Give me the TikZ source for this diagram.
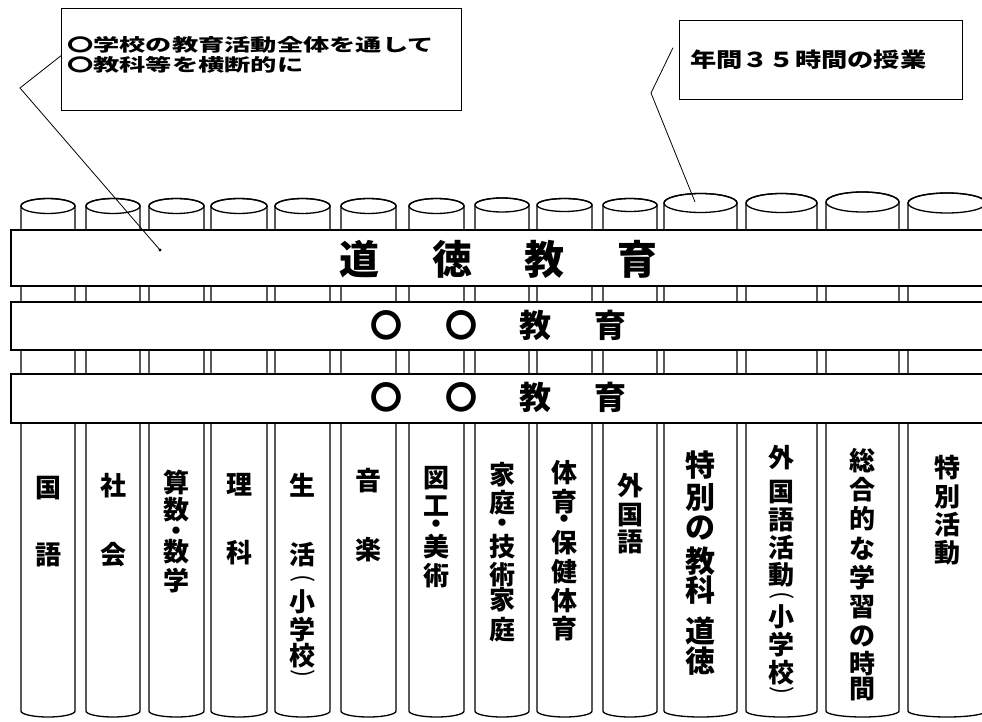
\documentclass[tikz,border=0pt]{standalone}
\usepackage{fontspec}
\usepackage{graphicx}
\newfontfamily\jp{Noto Sans CJK JP}
\newcommand\cylcol[4]{%
  \pgfmathsetmacro\cxr{(#2-#1)/2}%
  \pgfmathsetmacro\cxm{(#2+#1)/2}%
  \path[colline] (#1,-#3) -- (#1,-711) arc[start angle=180,end angle=360,x radius=\cxr pt,y radius=6pt] -- (#2,-#3) arc[start angle=0,end angle=180,x radius=\cxr pt,y radius=#4pt] -- cycle;
  \draw[colline,fill=none] (\cxm,-#3) ellipse[x radius=\cxr pt,y radius=#4pt];
}
\newcommand\coltext[4]{%
  \foreach \ch/\yy [count=\i] in {#4} {\node[ctext,#3] (#1-\i) at (#2,-\yy) {\ch};}%
}
\begin{document}
\begin{tikzpicture}[x=1pt,y=1pt,
  colline/.style={draw=black,line width=1.3pt,fill=white},
  bandbox/.style={draw=black,line width=1.5pt,fill=white,inner sep=0pt,anchor=north west},
  callout/.style={draw=black,line width=1.4pt,fill=white,inner sep=0pt,anchor=north west},
  leader/.style={draw=black,line width=0.8pt},
  ctext/.style={inner sep=0pt,font=\jp\bfseries\fontsize{26}{26}\selectfont},
  bigtext/.style={inner sep=0pt,font=\jp\bfseries\fontsize{30}{30}\selectfont},
  paren/.style={inner sep=0pt,rotate=-90,font=\jp\fontsize{24}{24}\selectfont},
  bandA/.style={inner sep=0pt,font=\jp\bfseries\fontsize{40}{40}\selectfont},
  bandB/.style={inner sep=0pt,font=\jp\bfseries\fontsize{32}{32}\selectfont},
  htext/.style={inner sep=0pt,anchor=base west}]
\useasboundingbox (0,0) rectangle (982,-722);
\clip (0,0) rectangle (982,-722);
\fill[white] (0,0) rectangle (982,-722);

% columns (cylinders)
\cylcol{21}{75}{206}{7.5}
\cylcol{86}{140}{206}{7.5}
\cylcol{149}{204}{206}{7.5}
\cylcol{211}{267}{206}{7.5}
\cylcol{275}{330}{206}{7.5}
\cylcol{341}{396}{206}{7.5}
\cylcol{409}{464}{206}{7.5}
\cylcol{475}{529}{205}{7}
\cylcol{537}{592}{205}{6.5}
\cylcol{603}{657}{205}{6.5}
\cylcol{664}{737}{203}{9.5}
\cylcol{746}{817}{203}{9.5}
\cylcol{826}{899}{202}{10}
\cylcol{908}{986}{203}{10}

% bands
\node[bandbox,minimum width=990,minimum height=56] (band1) at (10,-229) {};
\node[bandbox,minimum width=990,minimum height=48] (band2) at (10,-301) {};
\node[bandbox,minimum width=990,minimum height=49] (band3) at (10,-373) {};

\foreach \ch/\xx [count=\i] in {道/359,徳/452,教/544,育/637}
  {\node[bandA] (ba-\i) at (\xx,-259) {\ch};}
\foreach \ch/\xx [count=\i] in {〇/386,〇/461,教/535,育/610}
  {\node[bandB] (bb-\i) at (\xx,-325) {\ch};}
\foreach \ch/\xx [count=\i] in {〇/386,〇/461,教/535,育/610}
  {\node[bandB] (bc-\i) at (\xx,-397) {\ch};}

% column labels
\coltext{k1}{48}{}{国/488,語/555}
\coltext{k2}{113}{}{社/486,会/555}
\coltext{k3}{176.5}{}{算/482,数/510,・/534,数/552,学/581}
\coltext{k4}{239}{}{理/485,科/553}
\coltext{k5}{302.5}{}{生/485,活/555,小/602,学/630,校/656}
\node[paren] (k5-o) at (302.5,-579) {(};
\node[paren] (k5-c) at (302.5,-674) {)};
\coltext{k6}{368.5}{}{音/481,楽/550}
\coltext{k7}{436.5}{}{図/478,工/506,・/527,美/547,術/576}
\coltext{k8}{502}{}{家/475,庭/503,・/526,技/547,術/575,家/600,庭/630}
\coltext{k9}{564.5}{}{体/473,育/502,・/522,保/543,健/572,体/601,育/629}
\coltext{k10}{630}{}{外/486,国/515,語/542}
\coltext{k11}{700.5}{bigtext}{特/465,別/497,の/528,教/561,科/590,道/631,徳/661}
\coltext{k12}{781.5}{}{外/458,国/492,語/520,活/548,動/575,小/617,学/645,校/673}
\node[paren] (k12-o) at (781.5,-596) {(};
\node[paren] (k12-c) at (781.5,-691) {)};
\coltext{k13}{862.5}{}{総/461,合/490,的/519,な/549,学/578,習/607,の/636,時/664,間/689}
\coltext{k14}{947}{}{特/468,別/497,活/525,動/553}

% callouts
\node[callout,minimum width=400,minimum height=102] (b1) at (61,-8) {};
\node[htext] (t1a) at (67,-52) {\scalebox{1.5}[1]{\jp\bfseries\fontsize{17.5}{20}\selectfont 〇学校の教育活動全体を通して}};
\node[htext] (t1b) at (67,-72) {\scalebox{1.5}[1]{\jp\bfseries\fontsize{17.5}{20}\selectfont 〇教科等を横断的に}};
\node[callout,minimum width=283,minimum height=79] (b2) at (679,-20) {};
\node[htext] (t2) at (690,-68) {\scalebox{1.28}[1]{\jp\bfseries\fontsize{20.5}{22}\selectfont 年間３５時間の授業}};

% leaders
\coordinate (v1) at (20,-88);
\coordinate (e1) at (160,-250);
\draw[leader] ([yshift=4pt]b1.west) -- (v1) -- (e1);
\fill (e1) circle (1.6pt);
\coordinate (s2) at ([xshift=-6pt,yshift=12.5pt]b2.west);
\coordinate (v2) at (651,-93);
\coordinate (e2) at (695,-202);
\draw[leader] (s2) -- (v2) -- (e2);
\end{tikzpicture}
\end{document}
